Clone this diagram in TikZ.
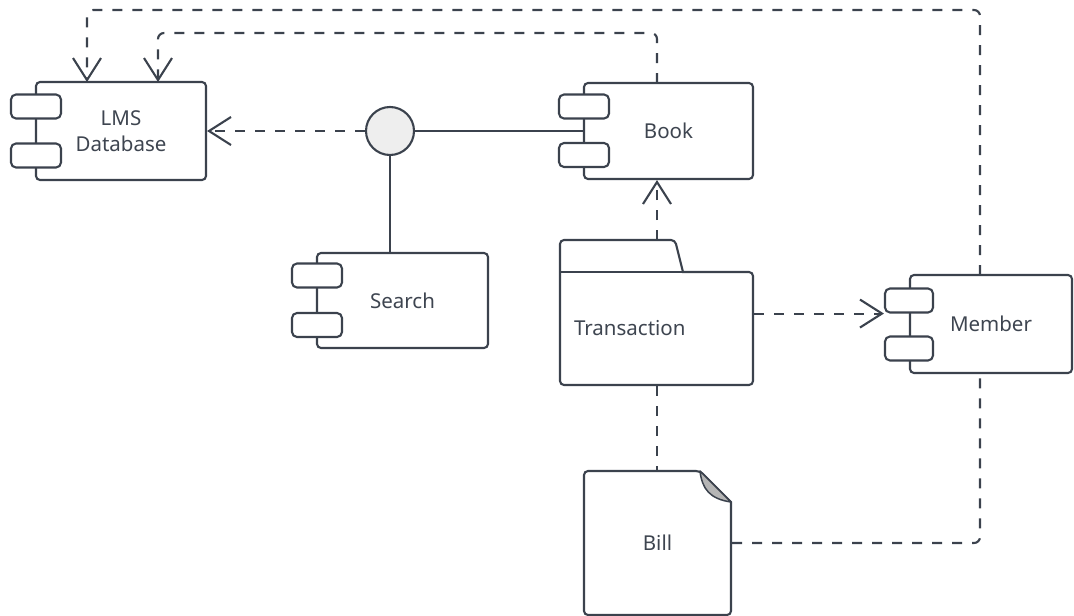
\documentclass[tikz,border=0pt]{standalone}
\usepackage{fontspec}
\setmainfont{Noto Sans}
\usetikzlibrary{arrows.meta}
\definecolor{ink}{HTML}{3B424D}
\definecolor{txt}{HTML}{3E4550}
\definecolor{knob}{HTML}{EEEEEE}
\definecolor{fold}{HTML}{B5B5B5}
\begin{document}
\begin{tikzpicture}[x=1pt,y=-1pt,line width=2.1pt,draw=ink,
  lbl/.style={text=txt,font=\fontsize{20.5}{26}\selectfont,align=center,inner sep=0pt},
  body/.style={lbl,draw=ink,fill=white,rounded corners=4pt},
  port/.style={draw=ink,fill=white,rounded corners=5pt,minimum width=50pt,minimum height=24pt,inner sep=0pt},
  dep/.style={draw=ink,dash pattern=on 10pt off 10pt},
  tip/.style={-{Straight Barb[length=22pt,width=28pt,line width=2.1pt]}},
  link/.style={draw=ink}]
\useasboundingbox (0,0) rectangle (1074,616);

% components
\node[body,minimum width=170pt,minimum height=98pt] (lms) at (121,131) {LMS\\Database};
\node[port] (lmsp1) at (36,106.5) {};
\node[port] (lmsp2) at (36,155.5) {};

\node[body,minimum width=169pt,minimum height=96pt] (book) at (668.5,131) {Book};
\node[port] (bookp1) at (584,106.5) {};
\node[port] (bookp2) at (584,155) {};

\node[body,minimum width=171pt,minimum height=95pt] (search) at (402.5,300.5) {Search};
\node[port] (searchp1) at (317,275.5) {};
\node[port] (searchp2) at (317,325) {};

\node[body,minimum width=162pt,minimum height=98pt] (member) at (991,324) {Member};
\node[port,minimum width=48pt] (memp1) at (909,300.5) {};
\node[port,minimum width=48pt] (memp2) at (909,348.5) {};

% interface
\node[circle,draw=ink,fill=knob,minimum size=48pt,inner sep=0pt] (iface) at (390,131) {};

% package
\draw[fill=white] (560,385) [rounded corners=4pt] -- (560,240) -- (675,240) [sharp corners] -- (683,272) [rounded corners=4pt] -- (753,272) -- (753,385) -- cycle;
\draw (560,272) -- (683,272);
\node[lbl,minimum width=193pt,minimum height=113pt,text width=165pt,align=left] (trans) at (656.5,328.5) {Transaction};
\coordinate (tabtop) at (657,240);

% document
\draw[fill=white] (657,615) [rounded corners=4pt] -- (584,615) -- (584,471) -- (700,471) [sharp corners] -- (731,502) [rounded corners=4pt] -- (731,615) -- cycle;
\draw[fill=fold,line width=1.5pt,line join=round] (700,471) .. controls (702,489) and (710,499) .. (731,502) -- cycle;
\node[lbl,minimum width=147pt,minimum height=144pt] (bill) at (657.5,543) {Bill};

% anchor points on the boxes
\coordinate (mtop) at (980,275);
\coordinate (mbot) at (980,373);
\coordinate (btop) at (657,83);
\coordinate (lmsA) at (87,82);
\coordinate (lmsB) at (158,82);

% connectors
\draw[dep,tip] (iface.west) -- (lms.east);
\draw[link] (iface.east) -- (iface.east -| book.west);
\draw[link] (iface.south) -- (iface.south |- search.north);
\draw[dep,tip] (tabtop) -- (tabtop |- book.south);
\draw[dep,tip] (memp1.south west -| trans.east) -- (memp1.south west);
\draw[dep] (tabtop |- trans.south) -- (tabtop |- bill.north);
\draw[dep,rounded corners=6pt] (bill.east) -| (mbot);
\draw[dep,tip,rounded corners=6pt] (mtop) -- ++(0,-265) -| (lmsA);
\draw[dep,tip,rounded corners=6pt] (btop) -- ++(0,-50) -| (lmsB);
\end{tikzpicture}
\end{document}
